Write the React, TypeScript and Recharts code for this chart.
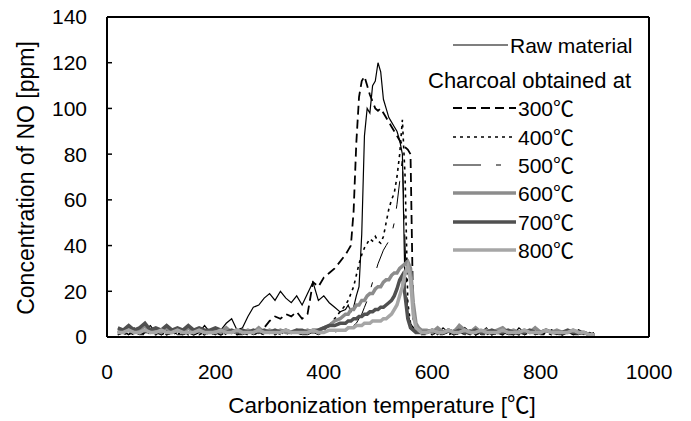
import React from 'react';
import { LineChart, Line, XAxis, YAxis, Legend, Label, ReferenceLine } from 'recharts';

// Temperature grid [°C]
const temps = [
  20, 30, 40, 50, 60, 70, 80, 90, 100, 110,
  120, 130, 140, 150, 160, 170, 180, 190, 200, 210,
  220, 230, 240, 250, 260, 270, 280, 290, 300, 310,
  320, 330, 340, 350, 360, 370, 380, 390, 400, 410,
  420, 430,
  440, 445, 450, 455, 460, 465, 470, 475, 480, 485,
  490, 495, 500, 505, 510, 515, 520, 525, 530, 535,
  540, 545, 550, 555, 560, 565, 570, 575, 580,
  590, 600, 610, 620, 630, 640, 650, 660, 670, 680,
  690, 700, 710, 720, 730, 740, 750, 760, 770, 780,
  790, 800, 810, 820, 830, 840, 850, 860, 870, 880,
  890, 900,
];

const rawMaterial = [
  2, 3, 1, 4, 2, 3, 5, 2, 1, 3, 2, 4, 1, 2, 3, 2, 5, 2, 1, 3,
  6, 8, 3, 4, 9, 13, 14, 17, 19, 16, 20, 17, 15, 18, 14, 19, 24, 16, 18, 15,
  13, 11,
  12, 14, 11, 13, 18, 22, 45, 88, 100, 98, 110, 112, 120, 116, 104, 100, 96, 94, 92, 90,
  86, 80, 20, 10, 6, 4, 3, 2, 3,
  2, 3, 1, 4, 2, 3, 5, 2, 1, 3, 2, 4, 1, 2, 3, 2, 1, 4, 2, 3,
  1, 2, 3, 2, 1, 2, 3, 1, 2, 1, 2, 1,
];

const charcoal300 = [
  1, 2, 1, 3, 1, 2, 2, 1, 3, 1, 2, 1, 3, 2, 1, 2, 1, 3, 2, 1,
  2, 3, 1, 2, 1, 2, 3, 4, 7, 9, 8, 10, 9, 11, 8, 10, 24, 22, 26, 28,
  30, 33,
  36, 38, 40, 55, 85, 105, 112, 114, 110, 106, 103, 100, 99, 100, 98, 96, 94, 92, 90, 88,
  86, 84, 83, 82, 80, 8, 5, 3, 2,
  3, 2, 1, 2, 3, 1, 2, 4, 2, 1, 2, 3, 1, 2, 1, 3, 2, 1, 2, 3,
  1, 2, 1, 3, 2, 1, 2, 1, 3, 2, 1, 2,
];

const charcoal400 = [
  2, 1, 2, 1, 3, 1, 2, 2, 1, 2, 1, 2, 3, 1, 2, 1, 2, 1, 2, 3,
  1, 2, 1, 2, 3, 1, 2, 1, 2, 1, 2, 1, 3, 2, 1, 2, 3, 2, 3, 5,
  8, 11,
  14, 16, 19, 22, 27, 32, 36, 39, 41, 43, 42, 44, 42, 41, 44, 50, 56, 60, 63, 70,
  80, 95, 70, 15, 6, 4, 3, 2, 2,
  2, 1, 2, 3, 1, 2, 1, 2, 3, 1, 2, 1, 2, 1, 3, 2, 1, 2, 1, 2,
  3, 1, 2, 1, 2, 1, 2, 3, 1, 2, 1, 1,
];

const charcoal500 = [
  1, 2, 1, 2, 1, 1, 2, 1, 2, 1, 2, 1, 1, 2, 1, 2, 1, 1, 2, 1,
  1, 2, 1, 1, 2, 1, 2, 1, 1, 2, 1, 2, 1, 2, 1, 1, 2, 1, 2, 2,
  2, 3,
  3, 3, 4, 5, 6, 8, 10, 13, 16, 20, 24, 28, 32, 35, 38, 40, 42, 45, 50, 58,
  68, 78, 40, 10, 5, 3, 2, 2, 1,
  1, 2, 1, 1, 2, 1, 2, 1, 1, 2, 1, 1, 2, 1, 2, 1, 1, 2, 1, 1,
  2, 1, 1, 2, 1, 1, 2, 1, 1, 2, 1, 1,
];

const charcoal600 = [
  3, 2, 4, 2, 3, 5, 2, 3, 2, 4, 2, 3, 2, 4, 2, 3, 2, 2, 3, 2,
  4, 2, 3, 2, 3, 2, 4, 2, 3, 2, 3, 2, 2, 3, 2, 3, 2, 3, 4, 5,
  7, 8,
  10, 10, 12, 12, 14, 14, 16, 16, 18, 19, 19, 21, 22, 22, 24, 25, 25, 27, 28, 28,
  30, 31, 32, 33, 30, 15, 6, 4, 3,
  3, 2, 4, 2, 3, 2, 5, 3, 2, 4, 2, 3, 2, 3, 4, 2, 3, 2, 3, 2,
  4, 2, 3, 2, 3, 2, 2, 3, 2, 2, 1, 1,
];

const charcoal700 = [
  4, 3, 5, 3, 4, 6, 3, 4, 3, 5, 3, 4, 3, 5, 3, 4, 3, 3, 4, 3,
  2, 3, 2, 3, 2, 3, 2, 3, 2, 3, 2, 3, 2, 3, 3, 2, 3, 3, 4, 5,
  5, 6,
  6, 7, 7, 8, 8, 9, 9, 10, 10, 11, 11, 12, 12, 13, 13, 14, 15, 16, 18, 21,
  25, 27, 18, 8, 4, 3, 2, 2, 2,
  2, 3, 2, 2, 3, 2, 3, 2, 2, 3, 2, 2, 3, 2, 2, 3, 2, 2, 2, 3,
  2, 2, 3, 2, 2, 2, 3, 2, 2, 2, 1, 1,
];

const charcoal800 = [
  2, 2, 3, 2, 2, 3, 2, 2, 3, 2, 2, 3, 2, 2, 2, 3, 2, 2, 2, 3,
  2, 2, 3, 2, 2, 2, 3, 2, 2, 2, 2, 3, 2, 2, 2, 2, 3, 2, 2, 3,
  3, 3,
  3, 4, 4, 4, 5, 5, 5, 6, 6, 6, 7, 7, 7, 7, 8, 8, 9, 10, 12, 14,
  18, 22, 28, 31, 25, 10, 4, 3, 2,
  2, 3, 2, 2, 3, 2, 2, 3, 2, 2, 3, 2, 2, 2, 3, 2, 2, 2, 3, 2,
  2, 2, 3, 2, 2, 2, 2, 3, 2, 2, 1, 1,
];

const xTicks = [0, 200, 400, 600, 800, 1000];
const yTicks = [0, 20, 40, 60, 80, 100, 120, 140];
const xMax = 1000;
const yMax = 140;

const seriesKeys = ['raw', 'c300', 'c400', 'c500', 'c600', 'c700', 'c800'];
const seriesLabels = ['Raw material', '300℃', '400℃', '500℃', '600℃', '700℃', '800℃'];
const seriesValues = [rawMaterial, charcoal300, charcoal400, charcoal500, charcoal600, charcoal700, charcoal800];

const seriesStyles = [
  { stroke: '#000000', strokeWidth: 1.2, dash: undefined as string | undefined },
  { stroke: '#000000', strokeWidth: 1.8, dash: '9 5' },
  { stroke: '#000000', strokeWidth: 1.6, dash: '3 4' },
  { stroke: '#000000', strokeWidth: 1, dash: '28 15 5 15' },
  { stroke: '#8c8c8c', strokeWidth: 3.5, dash: undefined },
  { stroke: '#505050', strokeWidth: 3.5, dash: undefined },
  { stroke: '#a6a6a6', strokeWidth: 3.5, dash: undefined },
];

const data = temps.map((t, i) => {
  const row: Record<string, number> = { t };
  seriesKeys.forEach((k, s) => {
    row[k] = seriesValues[s][i];
  });
  return row;
});

const FONT = '"Liberation Sans", Arial, "Noto Sans CJK JP", sans-serif';

const renderLegend = () => {
  const lineX1 = 445;
  const rows = [100, 129, 157, 185, 214, 242];
  return (
    <svg width={683} height={413} style={{ display: 'block', overflow: 'visible' }}>
      <line x1={lineX1} x2={500} y1={37} y2={37} stroke={seriesStyles[0].stroke} strokeWidth={seriesStyles[0].strokeWidth} />
      <text x={502} y={37} dominantBaseline="central" fontSize={21} fill="#000">{seriesLabels[0]}</text>
      <text x={420} y={72} dominantBaseline="central" fontSize={22} fill="#000">Charcoal obtained at</text>
      {rows.map((y, j) => {
        const st = seriesStyles[j + 1];
        return (
          <g key={j}>
            <line x1={lineX1} x2={508} y1={y} y2={y} stroke={st.stroke} strokeWidth={st.strokeWidth} strokeDasharray={st.dash} />
            <text x={510} y={y} dominantBaseline="central" fontSize={21} fill="#000">{seriesLabels[j + 1]}</text>
          </g>
        );
      })}
    </svg>
  );
};

export default function App() {
  return (
    <div style={{ width: 683, height: 413, fontFamily: FONT, position: 'relative' }}>
      <style>{`.recharts-surface { overflow: visible; }`}</style>
      <LineChart
        width={683}
        height={413}
        data={data}
        margin={{ top: 9, right: 42, bottom: 0, left: 0 }}
        style={{ fontFamily: FONT }}
      >
        <XAxis
          xAxisId="main"
          dataKey="t"
          type="number"
          domain={[0, xMax]}
          ticks={xTicks}
          height={84}
          tickLine={false}
          tickSize={0}
          tickMargin={27}
          axisLine={{ stroke: '#000', strokeWidth: 2 }}
          tick={{ fill: '#000', fontSize: 21 }}
        >
          <Label
            content={() => (
              <text x={374} y={397} textAnchor="middle" dominantBaseline="central" fontSize={22.5} fill="#000">
                Carbonization temperature [℃]
              </text>
            )}
          />
        </XAxis>
        <YAxis
          yAxisId="main"
          type="number"
          domain={[0, yMax]}
          ticks={yTicks}
          width={99}
          tickSize={-5}
          tickMargin={25}
          tickLine={{ stroke: '#000', strokeWidth: 1.5 }}
          axisLine={{ stroke: '#000', strokeWidth: 2 }}
          tick={{ fill: '#000', fontSize: 21 }}
          interval={0}
        >
          <Label
            content={() => (
              <text x={18} y={170} transform="rotate(-90 18 170)" textAnchor="middle" dominantBaseline="central" fontSize={23} fill="#000">
                Concentration of NO [ppm]
              </text>
            )}
          />
        </YAxis>
        <ReferenceLine xAxisId="main" yAxisId="main" y={yMax} stroke="#000" strokeWidth={2} />
        <ReferenceLine xAxisId="main" yAxisId="main" x={xMax} stroke="#000" strokeWidth={2} />
        {seriesKeys.map((k, s) => (
          <Line
            key={k}
            xAxisId="main"
            yAxisId="main"
            type="linear"
            dataKey={k}
            name={seriesLabels[s]}
            stroke={seriesStyles[s].stroke}
            strokeWidth={seriesStyles[s].strokeWidth}
            strokeDasharray={seriesStyles[s].dash}
            dot={false}
            activeDot={false}
            isAnimationActive={false}
          />
        ))}
        <Legend
          content={renderLegend}
          layout="vertical"
          align="center"
          verticalAlign="middle"
          wrapperStyle={{ position: 'absolute', left: 0, top: 0, width: 683, height: 413, pointerEvents: 'none' }}
        />
      </LineChart>
    </div>
  );
}
